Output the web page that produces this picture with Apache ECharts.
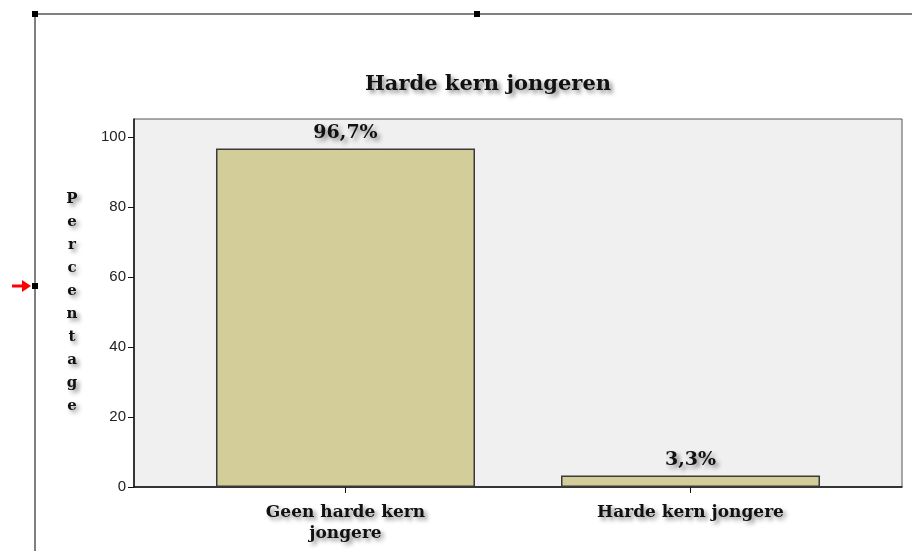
<!DOCTYPE html>
<html>
<head>
<meta charset="utf-8">
<script src="https://cdn.jsdelivr.net/npm/echarts@6/dist/echarts.min.js"></script>
<style>
  html, body { margin: 0; padding: 0; background: #fff; }
  #chart { width: 912px; height: 551px; }
</style>
</head>
<body>
<div id="chart"></div>
<script>
// chart data
var categories = ["Geen harde kern\njongere", "Harde kern jongere"];
var percentages = [96.7, 3.3];
var yTicks = [0, 20, 40, 60, 80, 100];
var titleText = "Harde kern jongeren";
var yName = "Percentage";

var serif = "'DejaVu Serif', 'Liberation Serif', serif";
var shadow = {
  textShadowColor: "rgba(0,0,0,0.45)",
  textShadowBlur: 4,
  textShadowOffsetX: 3,
  textShadowOffsetY: 3
};

// bars sit at x = 1, 2 on a value axis (SPSS leaves unequal margins)
var barData = percentages.map(function (v, i) {
  return [i + 1, v];
});

var myChart = echarts.init(document.getElementById("chart"));

var option = {
  animation: false,
  title: {
    text: titleText,
    left: 483,
    top: 69,
    textAlign: "center",
    textStyle: Object.assign({
      fontFamily: serif,
      fontSize: 21,
      fontWeight: "bold",
      color: "#111"
    }, shadow)
  },
  grid: {
    left: 134,
    right: 10,
    top: 119,
    bottom: 64,
    show: true,
    backgroundColor: "#f0f0f0",
    borderColor: "#555",
    borderWidth: 1
  },
  xAxis: {
    type: "value",
    min: 0.387,
    max: 2.613,
    splitLine: { show: false },
    axisLine: { show: true, lineStyle: { color: "#111", width: 1.5 } },
    axisTick: {
      show: true,
      length: 6,
      customValues: [1, 2],
      lineStyle: { color: "#111" }
    },
    axisLabel: Object.assign({
      customValues: [1, 2],
      margin: 15,
      fontFamily: serif,
      fontSize: 17,
      fontWeight: "bold",
      color: "#111",
      lineHeight: 21,
      formatter: function (v) {
        return categories[Math.round(v) - 1] || "";
      }
    }, shadow)
  },
  yAxis: {
    type: "value",
    min: 0,
    max: 105.14,
    name: yName.split("").join("\n"),
    nameLocation: "middle",
    nameRotate: 0,
    nameGap: 62,
    nameTextStyle: Object.assign({
      fontFamily: serif,
      fontSize: 15,
      fontWeight: "bold",
      color: "#111",
      lineHeight: 23,
      align: "center",
      verticalAlign: "middle"
    }, shadow),
    splitLine: { show: false },
    axisLine: { show: true, lineStyle: { color: "#111", width: 1.5 } },
    axisTick: {
      show: true,
      length: 6,
      customValues: yTicks,
      lineStyle: { color: "#111" }
    },
    axisLabel: {
      customValues: yTicks,
      margin: 8,
      fontFamily: "'Liberation Sans', Arial, sans-serif",
      fontSize: 15,
      color: "#222"
    }
  },
  series: [
    {
      type: "bar",
      data: barData,
      barWidth: 259,
      itemStyle: {
        color: "#d3ce99",
        borderColor: "#3a3a3a",
        borderWidth: 1.5
      },
      label: Object.assign({
        show: true,
        position: "top",
        distance: 6,
        fontFamily: serif,
        fontSize: 19,
        fontWeight: "bold",
        color: "#111",
        formatter: function (p) {
          return p.value[1].toFixed(1).replace(".", ",") + "%";
        }
      }, shadow)
    }
  ],
  // editor frame around the chart object
  graphic: [
    { type: "line", shape: { x1: 35, y1: 14, x2: 912, y2: 14 }, style: { stroke: "#000", lineWidth: 1 } },
    { type: "line", shape: { x1: 35, y1: 14, x2: 35, y2: 551 }, style: { stroke: "#000", lineWidth: 1 } },
    { type: "rect", shape: { x: 32, y: 11, width: 6, height: 6 }, style: { fill: "#000" } },
    { type: "rect", shape: { x: 474, y: 11, width: 6, height: 6 }, style: { fill: "#000" } },
    { type: "rect", shape: { x: 32, y: 283, width: 6, height: 6 }, style: { fill: "#000" } },
    { type: "line", shape: { x1: 12, y1: 286, x2: 24, y2: 286 }, style: { stroke: "#f00", lineWidth: 3 } },
    { type: "polygon", shape: { points: [[22, 280], [31, 286], [22, 292]] }, style: { fill: "#f00" } }
  ]
};

myChart.setOption(option);
</script>
</body>
</html>
